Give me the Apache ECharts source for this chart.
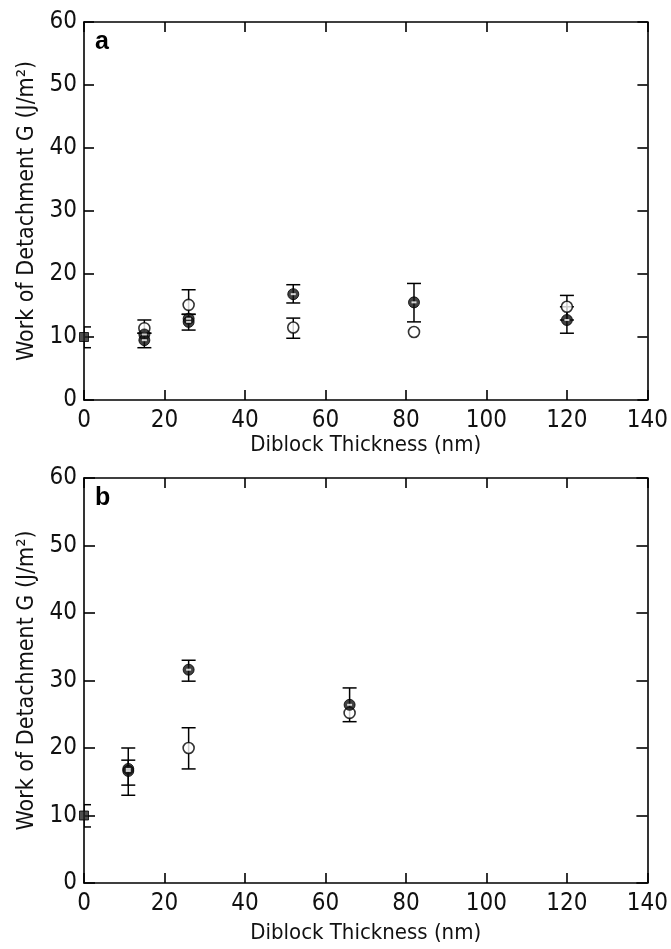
<!DOCTYPE html>
<html>
<head>
<meta charset="utf-8">
<script src="https://cdn.jsdelivr.net/npm/echarts@6/dist/echarts.min.js"></script>
<style>
  html, body { margin: 0; padding: 0; background: #fff; }
  #chart { width: 671px; height: 949px; }
</style>
</head>
<body>
<div id="chart"></div>
<script>
// panel a
var aSquareX = [0];
var aSquareY = [10];
var aFilledX = [15, 15, 26, 26, 52, 82, 120];
var aFilledY = [10.4, 9.5, 12.9, 12.4, 16.8, 15.5, 12.7];
var aOpenX = [15, 26, 52, 82, 120];
var aOpenY = [11.4, 15.1, 11.5, 10.8, 14.8];
var aErrX = [0, 15, 15, 26, 26, 52, 52, 82, 120, 120];
var aErrLo = [8.3, 8.3, 10.6, 11.1, 13.6, 15.4, 9.8, 12.4, 10.6, 12.7];
var aErrHi = [11.6, 10.6, 12.7, 13.6, 17.5, 18.3, 13.0, 18.5, 16.6, 14.8];

// panel b
var bSquareX = [0];
var bSquareY = [10];
var bFilledX = [11, 11, 26, 66];
var bFilledY = [16.9, 16.6, 31.6, 26.4];
var bOpenX = [26, 66];
var bOpenY = [20.0, 25.2];
var bErrX = [0, 11, 11, 26, 26, 66];
var bErrLo = [8.3, 13.0, 14.5, 16.9, 29.9, 23.9];
var bErrHi = [11.6, 20.0, 18.2, 23.0, 33.0, 28.9];

var xTicks = [0, 20, 40, 60, 80, 100, 120, 140];
var yTicks = [0, 10, 20, 30, 40, 50, 60];
var xTitle = 'Diblock Thickness (nm)';
var yTitle = 'Work of Detachment G (J/m²)';
var panelLetters = ['a', 'b'];

var FONT = '"DejaVu Sans Condensed", "DejaVu Sans", sans-serif';

function pairs(xs, ys) {
    var out = [];
    for (var i = 0; i < xs.length; i++) {
        out.push([xs[i], ys[i]]);
    }
    return out;
}
function triples(xs, lo, hi) {
    var out = [];
    for (var i = 0; i < xs.length; i++) {
        out.push([xs[i], lo[i], hi[i]]);
    }
    return out;
}

// error bar: vertical stem + two caps
function renderErr(params, api) {
    var x = api.value(0);
    var pLo = api.coord([x, api.value(1)]);
    var pHi = api.coord([x, api.value(2)]);
    var w = 7;
    var st = { stroke: '#000', lineWidth: 1.5 };
    return {
        type: 'group',
        children: [
            { type: 'line', shape: { x1: pLo[0], y1: pLo[1], x2: pHi[0], y2: pHi[1] }, style: st },
            { type: 'line', shape: { x1: pLo[0] - w, y1: pLo[1], x2: pLo[0] + w, y2: pLo[1] }, style: st },
            { type: 'line', shape: { x1: pHi[0] - w, y1: pHi[1], x2: pHi[0] + w, y2: pHi[1] }, style: st }
        ]
    };
}

var lineSt = { color: '#000', width: 1.6 };

function xAxes(g, gap) {
    return [
        {
            gridIndex: g, type: 'value', position: 'bottom',
            min: xTicks[0], max: xTicks[xTicks.length - 1], interval: 20,
            name: xTitle, nameLocation: 'middle', nameGap: gap,
            nameTextStyle: { fontFamily: FONT, fontSize: 22, color: '#111' },
            axisLine: { onZero: false, lineStyle: lineSt },
            axisTick: { inside: true, length: 10, lineStyle: lineSt },
            axisLabel: { fontFamily: FONT, fontSize: 24, color: '#111', margin: 9 },
            splitLine: { show: false }
        },
        {
            gridIndex: g, type: 'value', position: 'top',
            min: xTicks[0], max: xTicks[xTicks.length - 1], interval: 20,
            axisLine: { onZero: false, lineStyle: lineSt },
            axisTick: { inside: true, length: 10, lineStyle: lineSt },
            axisLabel: { show: false },
            splitLine: { show: false }
        }
    ];
}
function yAxes(g, len) {
    return [
        {
            gridIndex: g, type: 'value', position: 'left',
            min: yTicks[0], max: yTicks[yTicks.length - 1], interval: 10,
            name: yTitle, nameLocation: 'middle', nameGap: 42, nameRotate: 90,
            nameTextStyle: { fontFamily: FONT, fontSize: 23, color: '#111' },
            axisLine: { onZero: false, lineStyle: lineSt },
            axisTick: { inside: true, length: len, lineStyle: lineSt },
            axisLabel: { fontFamily: FONT, fontSize: 24, color: '#111', margin: 7 },
            splitLine: { show: false }
        },
        {
            gridIndex: g, type: 'value', position: 'right',
            min: yTicks[0], max: yTicks[yTicks.length - 1], interval: 10,
            axisLine: { onZero: false, lineStyle: lineSt },
            axisTick: { inside: true, length: len, lineStyle: lineSt },
            axisLabel: { show: false },
            splitLine: { show: false }
        }
    ];
}

function panelSeries(g, sqX, sqY, fX, fY, oX, oY, eX, eLo, eHi) {
    var xi = g * 2, yi = g * 2;
    return [
        {
            type: 'custom', xAxisIndex: xi, yAxisIndex: yi, clip: true,
            renderItem: renderErr, encode: { x: 0, y: [1, 2] },
            data: triples(eX, eLo, eHi), z: 2
        },
        {
            type: 'scatter', xAxisIndex: xi, yAxisIndex: yi, symbol: 'rect', symbolSize: 9,
            itemStyle: { color: '#222', borderColor: '#000', borderWidth: 1 },
            data: pairs(sqX, sqY), z: 3
        },
        {
            type: 'scatter', xAxisIndex: xi, yAxisIndex: yi, symbol: 'circle', symbolSize: 11,
            itemStyle: { color: '#fff', borderColor: '#000', borderWidth: 1.6 },
            data: pairs(oX, oY), z: 3
        },
        {
            type: 'scatter', xAxisIndex: xi, yAxisIndex: yi, symbol: 'circle', symbolSize: 11,
            itemStyle: { color: '#111', borderColor: '#000', borderWidth: 1 },
            data: pairs(fX, fY), z: 4
        },
        {
            type: 'scatter', xAxisIndex: xi, yAxisIndex: yi, symbol: 'rect', symbolSize: [5, 2],
            itemStyle: { color: '#fff' }, silent: true,
            data: pairs(fX, fY), z: 5
        }
    ];
}

var letterStyle = { fontFamily: '"Liberation Sans", Arial, Helvetica, sans-serif', fontWeight: 'bold', fontSize: 25, color: '#000' };

var myChart = echarts.init(document.getElementById('chart'));
var option = {
    backgroundColor: '#fff',
    animation: false,
    title: [
        { text: panelLetters[0], left: 90, top: 25, textStyle: letterStyle },
        { text: panelLetters[1], left: 90, top: 481, textStyle: letterStyle }
    ],
    grid: [
        { left: 84, right: 17, top: 22, height: 378 },
        { left: 84, right: 17, top: 478, height: 405 }
    ],
    xAxis: xAxes(0, 34).concat(xAxes(1, 39)),
    yAxis: yAxes(0, 10).concat(yAxes(1, 11)),
    series: panelSeries(0, aSquareX, aSquareY, aFilledX, aFilledY, aOpenX, aOpenY, aErrX, aErrLo, aErrHi)
        .concat(panelSeries(1, bSquareX, bSquareY, bFilledX, bFilledY, bOpenX, bOpenY, bErrX, bErrLo, bErrHi))
};
myChart.setOption(option);
</script>
</body>
</html>
